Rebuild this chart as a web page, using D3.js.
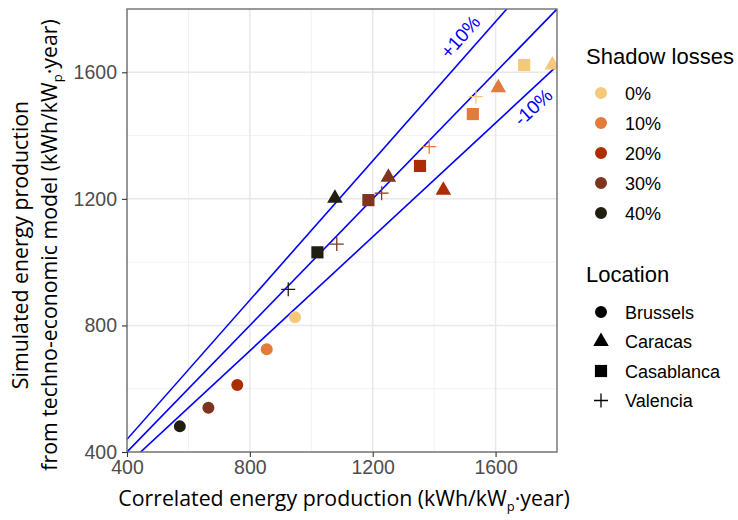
<!DOCTYPE html>
<html>
<head>
<meta charset="utf-8">
<script src="https://cdn.jsdelivr.net/npm/d3@7"></script>
<style>
  body { margin: 0; background: #fff; }
  text { font-family: "Liberation Sans", Arial, sans-serif; }
  .title { font-family: "Open Sans", sans-serif; }
</style>
</head>
<body>
<svg id="chart" width="738" height="520"></svg>
<script>
// shadow loss levels and their colours
var shadowLevels = ["0%", "10%", "20%", "30%", "40%"];
var shadowColors = ["#F5C87A", "#E27B3B", "#AC2E00", "#7F3420", "#1F1E10"];
var locations = ["Brussels", "Caracas", "Casablanca", "Valencia"];

// correlated (x) vs simulated (y) production, one value per shadow level
var brusselsX = [947, 855, 759, 665, 572];
var brusselsY = [826, 725, 612, 540, 481];
var caracasX = [1785, 1609, 1430, 1251, 1077];
var caracasY = [1623, 1551, 1227, 1268, 1202];
var casablancaX = [1693, 1526, 1354, 1186, 1020];
var casablancaY = [1623, 1468, 1304, 1196, 1031];
var valenciaX = [1536, 1384, 1229, 1083, 925];
var valenciaY = [1523, 1365, 1218, 1057, 914];

var xTicks = [400, 800, 1200, 1600];
var yTicks = [400, 800, 1200, 1600];
var minorTicks = [600, 1000, 1400];

// y = k * x reference lines
var refSlopes = [1.1, 1.0, 0.9];
var refLabels = ["+10%", "-10%"];
var refLabelX = [1485, 1722];
var refLabelY = [1712, 1490];
var refLabelSlope = [1.1, 0.9];

var seriesX = [brusselsX, caracasX, casablancaX, valenciaX];
var seriesY = [brusselsY, caracasY, casablancaY, valenciaY];

drawChart();

function drawChart(){
  var points = [];
  locations.forEach(function(loc, i){
    shadowLevels.forEach(function(s, j){
      points.push({loc: loc, li: i, shadow: s, si: j, x: seriesX[i][j], y: seriesY[i][j]});
    });
  });

  var svg = d3.select("#chart");
  var pL = 127, pR = 557, pT = 9, pB = 452;

  var x = d3.scaleLinear().domain([400, 1800]).range([pL, pR]);
  var y = d3.scaleLinear().domain([400, 1800]).range([pB, pT]);

  svg.append("defs").append("clipPath").attr("id", "panel")
    .append("rect").attr("x", pL).attr("y", pT).attr("width", pR - pL).attr("height", pB - pT);

  // grid
  var grid = svg.append("g");
  minorTicks.forEach(function(t){
    grid.append("line").attr("x1", x(t)).attr("x2", x(t)).attr("y1", pT).attr("y2", pB)
      .attr("stroke", "#F0F0F0").attr("stroke-width", 0.9);
    grid.append("line").attr("y1", y(t)).attr("y2", y(t)).attr("x1", pL).attr("x2", pR)
      .attr("stroke", "#F0F0F0").attr("stroke-width", 0.9);
  });
  xTicks.forEach(function(t){
    grid.append("line").attr("x1", x(t)).attr("x2", x(t)).attr("y1", pT).attr("y2", pB)
      .attr("stroke", "#E8E8E8").attr("stroke-width", 1.5);
  });
  yTicks.forEach(function(t){
    grid.append("line").attr("y1", y(t)).attr("y2", y(t)).attr("x1", pL).attr("x2", pR)
      .attr("stroke", "#E8E8E8").attr("stroke-width", 1.5);
  });

  var plot = svg.append("g").attr("clip-path", "url(#panel)");

  // reference lines
  refSlopes.forEach(function(k){
    plot.append("line")
      .attr("x1", x(400)).attr("y1", y(400 * k))
      .attr("x2", x(1800)).attr("y2", y(1800 * k))
      .attr("stroke", "#0000FF").attr("stroke-width", 1.6);
  });

  function shapeFor(li){
    if (li == 0) return d3.symbol().type(d3.symbolCircle).size(113)();
    if (li == 1) return d3.symbol().type(d3.symbolTriangle).size(105)();
    if (li == 2) return d3.symbol().type(d3.symbolSquare).size(148)();
    return "M-7,0H7M0,-7V7";
  }

  plot.selectAll("path.pt").data(points).enter().append("path")
    .attr("class", "pt")
    .attr("d", function(d){ return shapeFor(d.li); })
    .attr("transform", function(d){ return "translate(" + x(d.x) + "," + y(d.y) + ")"; })
    .attr("fill", function(d){ return d.li == 3 ? "none" : shadowColors[d.si]; })
    .attr("stroke", function(d){ return d.li == 3 ? shadowColors[d.si] : "none"; })
    .attr("stroke-width", 1.3);

  // +10% / -10% labels
  refLabels.forEach(function(lab, i){
    var px = x(refLabelX[i]), py = y(refLabelY[i]);
    var ang = Math.atan((y(0) - y(refLabelSlope[i] * 100)) / (x(100) - x(0))) * 180 / Math.PI;
    svg.append("text").attr("transform", "translate(" + px + "," + py + ") rotate(" + (-ang) + ")")
      .attr("text-anchor", "middle").attr("dy", "0.35em")
      .attr("fill", "#0000FF").style("font-size", "19px").text(lab);
  });

  // border
  svg.append("rect").attr("x", pL).attr("y", pT).attr("width", pR - pL).attr("height", pB - pT)
    .attr("fill", "none").attr("stroke", "#707070").attr("stroke-width", 1.4);

  // axes
  var yAxis = svg.append("g").attr("transform", "translate(" + pL + ",0)")
    .call(d3.axisLeft(y).tickValues(yTicks).tickSize(5).tickPadding(5).tickFormat(d3.format("d")));
  var xAxis = svg.append("g").attr("transform", "translate(0," + pB + ")")
    .call(d3.axisBottom(x).tickValues(xTicks).tickSize(5).tickPadding(3).tickFormat(d3.format("d")));
  [xAxis, yAxis].forEach(function(a){
    a.select(".domain").remove();
    a.selectAll("line").attr("stroke", "#333").attr("stroke-width", 1.1);
    a.selectAll("text").attr("fill", "#4D4D4D").style("font-size", "19.5px")
      .style("font-family", "'Liberation Sans', Arial, sans-serif");
  });

  // axis titles
  function unitText(sel, before){
    sel.append("tspan").text(before + "(kWh/kW");
    sel.append("tspan").attr("dy", 5).style("font-size", "13px").text("p");
    sel.append("tspan").attr("dy", -5).text("\u00B7year)");
  }
  var xt = svg.append("text").attr("class", "title").attr("x", (pL + pR) / 2 + 2).attr("y", 506)
    .attr("text-anchor", "middle").style("font-size", "21.3px").attr("fill", "#000");
  unitText(xt, "Correlated energy production ");

  var yt = svg.append("g").attr("transform", "translate(0,245) rotate(-90)");
  yt.append("text").attr("class", "title").attr("x", 0).attr("y", 28).attr("text-anchor", "middle")
    .style("font-size", "21.3px").text("Simulated energy production");
  var yt2 = yt.append("text").attr("class", "title").attr("x", 0).attr("y", 57).attr("text-anchor", "middle")
    .style("font-size", "21.3px");
  unitText(yt2, "from techno-economic model ");

  // legends
  var lg = svg.append("g");
  lg.append("text").attr("x", 586).attr("y", 64).style("font-size", "22px").attr("fill", "#000").text("Shadow losses");
  shadowLevels.forEach(function(s, j){
    var cy = 93 + j * 30;
    lg.append("path").attr("d", d3.symbol().type(d3.symbolCircle).size(113)())
      .attr("transform", "translate(601," + cy + ")").attr("fill", shadowColors[j]);
    lg.append("text").attr("x", 625).attr("y", cy + 6.5).style("font-size", "18px").attr("fill", "#000").text(s);
  });

  lg.append("text").attr("x", 586).attr("y", 282).style("font-size", "22px").attr("fill", "#000").text("Location");
  locations.forEach(function(loc, i){
    var cy = 312 + i * 29.5;
    lg.append("path").attr("d", shapeFor(i))
      .attr("transform", "translate(601," + cy + ")")
      .attr("fill", i == 3 ? "none" : "#000")
      .attr("stroke", i == 3 ? "#000" : "none").attr("stroke-width", 1.3);
    lg.append("text").attr("x", 625).attr("y", cy + 6.5).style("font-size", "18px").attr("fill", "#000").text(loc);
  });
}
</script>
</body>
</html>
